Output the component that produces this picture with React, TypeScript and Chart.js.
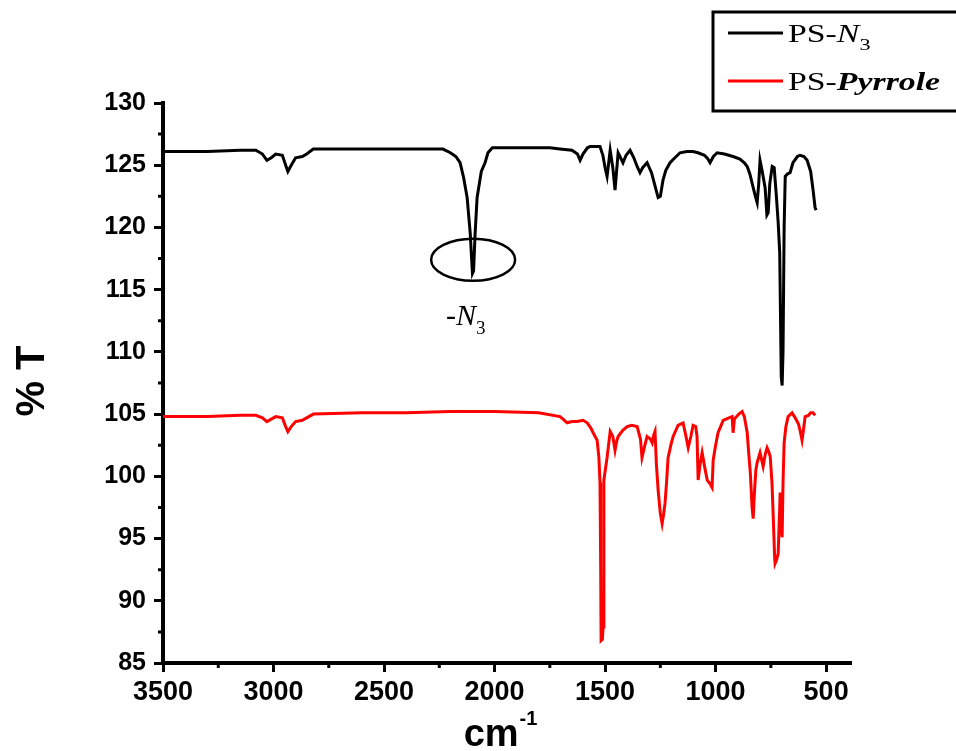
import React, { useEffect, useRef } from "react";
import { Chart, registerables } from "chart.js";

Chart.register(...registerables);

// ---- Data ----
const n3Wavenumber = [
  3500, 3300, 3150, 3080, 3050, 3030, 3010, 2990, 2960, 2945, 2935, 2920, 2900, 2870, 2850, 2820,
  2600, 2400, 2260, 2233, 2200, 2175, 2156, 2140, 2124, 2110, 2100, 2095, 2088, 2079, 2060, 2043,
  2030, 2010, 1900, 1750, 1704, 1650, 1625, 1613, 1600, 1580, 1568, 1540, 1523, 1510, 1500, 1491,
  1485, 1477, 1465, 1455, 1448, 1441, 1430, 1419, 1405, 1387, 1370, 1355, 1342, 1330, 1310, 1290,
  1275, 1260, 1250, 1238, 1225, 1206, 1190, 1161, 1130, 1102, 1080, 1050, 1035, 1025, 1010, 993,
  960, 921, 890, 870, 857, 845, 830, 820, 812, 805, 799, 790, 776, 768, 762, 755, 744, 735, 725,
  717, 710, 703, 699, 695, 690, 685, 675, 663, 650, 630, 618, 600, 586, 570, 559, 550, 545,
];
const n3Transmittance = [
  126.1, 126.1, 126.2, 126.2, 125.9, 125.4, 125.6, 125.9, 125.8, 125.0, 124.5, 125.0, 125.6, 125.7, 125.9, 126.3,
  126.3, 126.3, 126.3, 126.3, 126.0, 125.7, 125.2, 124.0, 122.4, 119.5, 116.3, 116.5, 119.5, 122.4, 124.5, 125.2,
  126.0, 126.4, 126.4, 126.4, 126.3, 126.2, 125.9, 125.4, 125.9, 126.4, 126.5, 126.5, 126.5, 125.8, 124.8, 124.1,
  125.0, 126.2, 124.8, 123.0, 124.5, 126.0, 125.6, 125.2, 125.8, 126.2, 125.6, 124.9, 124.4, 124.8, 125.2, 124.4,
  123.4, 122.4, 122.5, 123.8, 124.6, 125.2, 125.5, 126.0, 126.1, 126.1, 126.0, 125.8, 125.5, 125.2, 125.7, 126.0,
  125.9, 125.7, 125.5, 125.2, 124.9, 124.3, 123.2, 122.5, 122.0, 123.5, 125.4, 124.6, 123.2, 121.0, 121.2, 123.5, 124.9, 124.8, 122.5,
  120.4, 118.0, 108.0, 107.3, 110.0, 120.0, 124.1, 124.3, 124.4, 125.2, 125.7, 125.8, 125.7, 125.4, 124.5, 123.0, 121.6, 121.4,
];

const pyrroleWavenumber = [
  3500, 3300, 3150, 3080, 3050, 3030, 3010, 2990, 2960, 2945, 2935, 2920, 2900, 2870, 2850, 2820,
  2600, 2400, 2200, 2000, 1800, 1704, 1690, 1672, 1650, 1627, 1600, 1581, 1565, 1554, 1536, 1528,
  1523, 1520, 1518, 1512, 1509, 1506, 1505, 1491, 1477, 1465, 1455, 1448, 1441, 1420, 1400, 1380,
  1355, 1340, 1333, 1320, 1310, 1295, 1287, 1280, 1274, 1268, 1260, 1250, 1242, 1235, 1229, 1222,
  1215, 1200, 1192, 1170, 1147, 1135, 1124, 1112, 1102, 1090, 1084, 1079, 1070, 1061, 1050, 1038,
  1025, 1016, 1011, 1000, 989, 975, 966, 940, 925, 921, 915, 895, 880, 870, 857, 850, 843, 835,
  830, 825, 818, 812, 799, 790, 785, 775, 767, 760, 753, 745, 740, 733, 731, 724, 717, 710, 708,
  703, 699, 695, 690, 682, 672, 654, 640, 625, 618, 609, 602, 595, 580, 570, 559, 550,
];
const pyrroleTransmittance = [
  104.8, 104.8, 104.9, 104.9, 104.7, 104.4, 104.6, 104.8, 104.7, 104.0, 103.6, 104.0, 104.4, 104.5, 104.7, 105.0,
  105.1, 105.1, 105.2, 105.2, 105.1, 104.8, 104.6, 104.3, 104.4, 104.4, 104.5, 104.3, 103.9, 103.5, 102.9, 101.5,
  99.5, 93.0, 86.8, 86.9, 87.9, 95.0, 99.7, 101.5, 103.6, 103.2, 102.1, 102.8, 103.2, 103.7, 104.0, 104.1,
  104.0, 103.0, 101.5, 102.5, 103.2, 103.0, 102.7, 103.3, 103.6, 101.0, 98.9, 97.0, 96.2, 97.0, 97.8, 99.5,
  101.5, 102.7, 103.2, 104.1, 104.3, 103.3, 102.3, 103.2, 104.1, 104.0, 103.2, 99.7, 101.0, 101.9, 100.8, 99.7,
  99.4, 99.1, 101.3, 102.5, 103.5, 104.1, 104.5, 104.7, 104.8, 103.5, 104.6, 105.0, 105.2, 104.8, 103.5, 101.8, 100.3, 97.5,
  96.6, 98.5, 100.5, 101.1, 101.9, 101.2, 100.8, 101.8, 102.3, 102.0, 101.6, 99.5, 97.1, 93.5, 93.0, 93.3, 93.8, 97.5, 98.7,
  96.0, 95.1, 99.5, 102.7, 104.0, 104.8, 105.1, 104.7, 104.2, 103.7, 102.9, 103.8, 104.8, 104.9, 105.1, 105.1, 104.9,
];

const xTickValues = [3500, 3000, 2500, 2000, 1500, 1000, 500];
const xMinorTickValues = [3250, 2750, 2250, 1750, 1250, 750];
const yTickValues = [85, 90, 95, 100, 105, 110, 115, 120, 125, 130];
const yMinorTickValues = [87.5, 92.5, 97.5, 102.5, 107.5, 112.5, 117.5, 122.5, 127.5];

const seriesNames = ["PS-N3", "PS-Pyrrole"];
const legendPrefix = ["PS-", "PS-"];
const legendItalic = ["N", "Pyrrole"];
const legendSub = ["3", ""];
const seriesColors = ["#000000", "#ff0000"];

const xAxisTitle = "cm";
const xAxisTitleSup = "-1";
const yAxisTitle = "% T";
const annotationWavenumber = 2097;
const annotationValue = 117.4;
const annotationPrefix = "-";
const annotationItalic = "N";
const annotationSub = "3";

const overlayPlugin = {
  id: "overlay",
  afterDraw(chart: any) {
    const ctx: CanvasRenderingContext2D = chart.ctx;
    const xs = chart.scales.x;
    const ys = chart.scales.y;
    const area = chart.chartArea;
    ctx.save();
    // minor ticks
    ctx.strokeStyle = "#000";
    ctx.lineWidth = 3;
    ctx.beginPath();
    yMinorTickValues.forEach((v) => {
      const y = ys.getPixelForValue(v);
      ctx.moveTo(area.left - 5, y);
      ctx.lineTo(area.left, y);
    });
    xMinorTickValues.forEach((v) => {
      const x = xs.getPixelForValue(v);
      ctx.moveTo(x, area.bottom);
      ctx.lineTo(x, area.bottom + 5);
    });
    ctx.stroke();

    // annotation ellipse
    const cx = xs.getPixelForValue(annotationWavenumber);
    const cy = ys.getPixelForValue(annotationValue);
    ctx.lineWidth = 2.5;
    ctx.beginPath();
    ctx.ellipse(cx, cy, 42, 21, 0, 0, Math.PI * 2);
    ctx.stroke();
    // annotation text
    ctx.fillStyle = "#000";
    ctx.textBaseline = "alphabetic";
    ctx.textAlign = "left";
    let tx = cx - 27;
    const ty = cy + 65;
    ctx.font = "30px 'Liberation Serif', serif";
    ctx.fillText(annotationPrefix, tx, ty);
    tx += ctx.measureText(annotationPrefix).width;
    ctx.font = "italic 30px 'Liberation Serif', serif";
    ctx.fillText(annotationItalic, tx, ty);
    tx += ctx.measureText(annotationItalic).width;
    ctx.font = "19px 'Liberation Serif', serif";
    ctx.fillText(annotationSub, tx, ty + 9);

    // legend box
    ctx.lineWidth = 3;
    ctx.strokeRect(713, 12, 260, 99);
    const rowsY = [33, 81];
    for (let i = 0; i < seriesNames.length; i++) {
      const ly = rowsY[i];
      ctx.strokeStyle = seriesColors[i];
      ctx.lineWidth = 3;
      ctx.beginPath();
      ctx.moveTo(728, ly);
      ctx.lineTo(783, ly);
      ctx.stroke();
      ctx.save();
      ctx.translate(788, ly + 9);
      ctx.scale(1.3, 1);
      let lx = 0;
      ctx.fillStyle = "#000";
      ctx.font = "26px 'Liberation Serif', serif";
      ctx.fillText(legendPrefix[i], lx, 0);
      lx += ctx.measureText(legendPrefix[i]).width;
      ctx.font = (i === 1 ? "bold " : "") + "italic 26px 'Liberation Serif', serif";
      ctx.fillText(legendItalic[i], lx, 0);
      lx += ctx.measureText(legendItalic[i]).width;
      if (legendSub[i]) {
        ctx.font = "17px 'Liberation Serif', serif";
        ctx.fillText(legendSub[i], lx, 8);
      }
      ctx.restore();
    }

    // axis titles
    ctx.fillStyle = "#000";
    ctx.font = "bold 38px 'Liberation Sans', Arial, sans-serif";
    ctx.textAlign = "left";
    ctx.textBaseline = "alphabetic";
    const w1 = ctx.measureText(xAxisTitle).width;
    ctx.font = "bold 20px 'Liberation Sans', Arial, sans-serif";
    const w2 = ctx.measureText(xAxisTitleSup).width;
    const startX = 510 - (w1 + w2) / 2 - 10;
    ctx.font = "bold 38px 'Liberation Sans', Arial, sans-serif";
    ctx.fillText(xAxisTitle, startX, 746);
    ctx.font = "bold 20px 'Liberation Sans', Arial, sans-serif";
    ctx.fillText(xAxisTitleSup, startX + w1 + 1, 725);

    ctx.save();
    ctx.translate(44, 381);
    ctx.rotate(-Math.PI / 2);
    ctx.font = "bold 40px 'Liberation Sans', Arial, sans-serif";
    ctx.textAlign = "center";
    ctx.fillText(yAxisTitle, 0, 0);
    ctx.restore();

    ctx.restore();
  },
};

export default function App() {
  const canvasRef = useRef<HTMLCanvasElement | null>(null);

  useEffect(() => {
    document.body.style.margin = "0";
    const canvas = canvasRef.current;
    if (!canvas) return;
    const chart = new Chart(canvas, {
      type: "line",
      data: {
        datasets: [
          {
            label: seriesNames[0],
            data: n3Wavenumber.map((x, i) => ({ x, y: n3Transmittance[i] })),
            borderColor: seriesColors[0],
            borderWidth: 3,
            pointRadius: 0,
            tension: 0,
            fill: false,
          },
          {
            label: seriesNames[1],
            data: pyrroleWavenumber.map((x, i) => ({ x, y: pyrroleTransmittance[i] })),
            borderColor: seriesColors[1],
            borderWidth: 3,
            pointRadius: 0,
            tension: 0,
            fill: false,
          },
        ],
      },
      options: {
        responsive: false,
        animation: false,
        devicePixelRatio: 1,
        layout: { padding: { top: 103, right: 106, left: 0, bottom: 0 } },
        plugins: {
          legend: { display: false },
          tooltip: { enabled: false },
          title: { display: false },
        },
        scales: {
          x: {
            type: "linear",
            reverse: true,
            min: 392,
            max: 3500,
            afterBuildTicks: (s: any) => {
              s.ticks = xTickValues.map((v) => ({ value: v }));
            },
            afterFit: (s: any) => {
              s.height = 88;
            },
            grid: {
              display: true,
              drawOnChartArea: false,
              drawTicks: true,
              tickLength: 9,
              lineWidth: 3,
              color: "#000",
            },
            border: { display: true, width: 4, color: "#000" },
            ticks: {
              color: "#000",
              padding: 4,
              maxRotation: 0,
              autoSkip: false,
              font: { family: "'Liberation Sans Narrow', 'Liberation Sans', Arial, sans-serif", weight: "bold", size: 27 },
              callback: (v: any) => String(v),
            },
          },
          y: {
            type: "linear",
            min: 85,
            max: 130,
            afterBuildTicks: (s: any) => {
              s.ticks = yTickValues.map((v) => ({ value: v }));
            },
            afterFit: (s: any) => {
              s.width = 163;
            },
            grid: {
              display: true,
              drawOnChartArea: false,
              drawTicks: true,
              tickLength: 9,
              lineWidth: 3,
              color: "#000",
            },
            border: { display: true, width: 4, color: "#000" },
            ticks: {
              color: "#000",
              padding: 8,
              autoSkip: false,
              font: { family: "'Liberation Sans', Arial, sans-serif", weight: "bold", size: 25 },
              callback: (v: any) => String(v),
            },
          },
        },
      },
      plugins: [overlayPlugin],
    });
    return () => chart.destroy();
  }, []);

  return (
    <div style={{ width: 956, height: 751, background: "#fff" }}>
      <canvas ref={canvasRef} width={956} height={751} />
    </div>
  );
}
